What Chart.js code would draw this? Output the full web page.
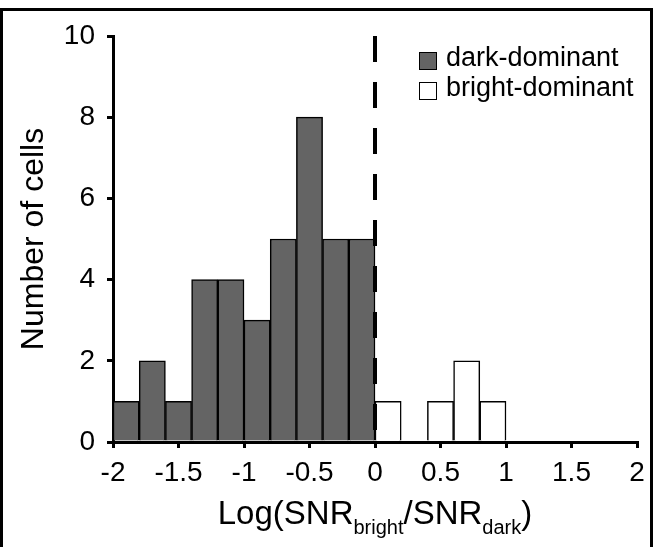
<!DOCTYPE html>
<html>
<head>
<meta charset="utf-8">
<script src="https://cdn.jsdelivr.net/npm/chart.js@4.4.0/dist/chart.umd.min.js"></script>
<style>
  html, body { margin: 0; padding: 0; background: #fff; }
  #wrap { position: relative; width: 653px; height: 547px; overflow: hidden;
          font-family: 'Liberation Sans', Arial, sans-serif; }
  #frame { position: absolute; left: 0; top: 8px; width: 653px; height: 600px;
           box-sizing: border-box; border: 3px solid #000; }
  #chart { position: absolute; left: 0; top: 0; }
  #legend { position: absolute; left: 419px; top: 42px; }
  .item { display: flex; align-items: center; height: 30px; font-size: 27px; color: #000; white-space: nowrap; }
  .swatch { width: 16px; height: 16px; border: 1.5px solid #000; margin-right: 9px; position: relative; top: 4px; }
</style>
</head>
<body>
<div id="wrap">
  <div id="frame"></div>
  <canvas id="chart" width="653" height="547"></canvas>
  <div id="legend"></div>
</div>
<script>
// histogram bins (centres, width 0.2) and counts
const darkCenters   = [-1.9, -1.7, -1.5, -1.3, -1.1, -0.9, -0.7, -0.5, -0.3, -0.1];
const darkCounts    = [1, 2, 1, 4, 4, 3, 5, 8, 5, 5];
const brightCenters = [0.1, 0.5, 0.7, 0.9];
const brightCounts  = [1, 1, 2, 1];
const xTicks = [-2, -1.5, -1, -0.5, 0, 0.5, 1, 1.5, 2];
const yTicks = [0, 2, 4, 6, 8, 10];
const dividerX = 0;

const FONT = "'Liberation Sans', Arial, sans-serif";
Chart.defaults.font.family = FONT;
Chart.defaults.color = '#000';

// x title with subscripts
const xTitlePlugin = {
  id: 'xTitle',
  afterDraw(chart) {
    const { ctx, chartArea } = chart;
    const parts = [
      ['Log(SNR', 33, 0], ['bright', 20, 10], ['/SNR', 33, 0], ['dark', 20, 10], [')', 33, 0]
    ];
    ctx.save();
    ctx.fillStyle = '#000';
    ctx.textBaseline = 'alphabetic';
    ctx.textAlign = 'left';
    let total = 0;
    parts.forEach(p => {
      ctx.font = p[1] + 'px ' + FONT;
      p.push(ctx.measureText(p[0]).width);
      total += p[3];
    });
    let x = (chartArea.left + chartArea.right) / 2 - total / 2;
    const base = chartArea.bottom + 82;
    parts.forEach(p => {
      ctx.font = p[1] + 'px ' + FONT;
      ctx.fillText(p[0], x, base + p[2]);
      x += p[3];
    });
    ctx.restore();
  }
};

const tickGrid = {
  display: true, drawOnChartArea: false, drawTicks: true,
  tickLength: 6, color: '#000', lineWidth: 3, offset: false
};

const chart = new Chart(document.getElementById('chart'), {
  type: 'bar',
  data: {
    datasets: [
      {
        type: 'line', label: 'divider',
        data: [{ x: dividerX, y: 10 }, { x: dividerX, y: 0 }],
        borderColor: '#000', borderWidth: 4, borderDash: [26, 20],
        pointRadius: 0, fill: false, order: 0
      },
      {
        label: 'dark-dominant',
        data: darkCenters.map((x, i) => ({ x, y: darkCounts[i] })),
        backgroundColor: '#646464', borderColor: '#000', borderWidth: 1.5,
        grouped: false, barPercentage: 1, categoryPercentage: 1, order: 2
      },
      {
        label: 'bright-dominant',
        data: brightCenters.map((x, i) => ({ x, y: brightCounts[i] })),
        backgroundColor: '#fff', borderColor: '#000', borderWidth: 1.5,
        grouped: false, barPercentage: 1, categoryPercentage: 1, order: 2
      }
    ]
  },
  options: {
    responsive: false, animation: false, events: [],
    layout: { padding: { left: 0, right: 16, top: 36, bottom: 0 } },
    plugins: { legend: { display: false }, tooltip: { enabled: false } },
    scales: {
      x: {
        type: 'linear', min: -2, max: 2, offset: false,
        afterBuildTicks: s => { s.ticks = xTicks.map(value => ({ value })); },
        afterFit: s => { s.height = 105; },
        border: { display: true, color: '#000', width: 3 },
        grid: tickGrid,
        ticks: { font: { size: 28 }, color: '#000', padding: 8, maxRotation: 0,
                 autoSkip: false, callback: v => String(v) }
      },
      y: {
        min: 0, max: 10,
        afterBuildTicks: s => { s.ticks = yTicks.map(value => ({ value })); },
        afterFit: s => { s.width = 113; },
        border: { display: true, color: '#000', width: 3 },
        grid: tickGrid,
        ticks: { font: { size: 28 }, color: '#000', padding: 12, callback: v => String(v) },
        title: { display: true, text: 'Number of cells', color: '#000',
                 font: { size: 32 }, padding: { top: 15, bottom: 0 } }
      }
    }
  },
  plugins: [xTitlePlugin]
});

// html legend from the bar datasets
document.getElementById('legend').innerHTML = chart.data.datasets
  .filter(d => d.label !== 'divider')
  .map(d => `<div class="item"><div class="swatch" style="background:${d.backgroundColor}"></div>${d.label}</div>`)
  .join('');
</script>
</body>
</html>
